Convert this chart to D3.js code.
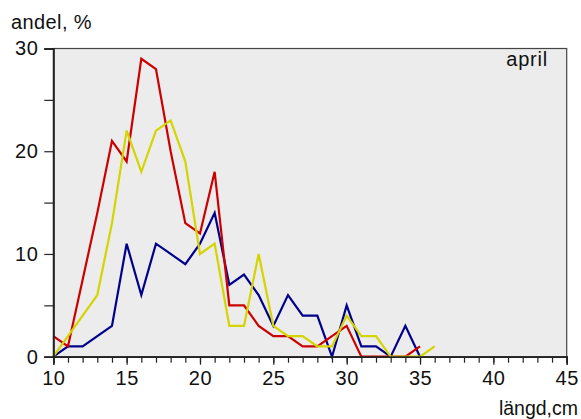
<!DOCTYPE html>
<html>
<head>
<meta charset="utf-8">
<script src="https://cdn.jsdelivr.net/npm/d3@7"></script>
<style>
  html, body { margin: 0; padding: 0; background: #fff; }
  svg { display: block; }
  text { font-family: "Liberation Sans", Arial, Helvetica, sans-serif; fill: #111; }
</style>
</head>
<body>
<svg id="chart" width="581" height="419"></svg>
<script>
// Length classes (cm) and share of catch (%) per length class
const lengthsCm = [10, 11, 12, 13, 14, 15, 16, 17, 18, 19, 20, 21, 22, 23, 24, 25, 26, 27, 28, 29, 30, 31, 32, 33, 34, 35, 36];
const redShare    = [2, 1, 7.5, 14, 21, 19, 29, 28, 20, 13, 12, 18, 5, 5, 3, 2, 2, 1, 1, 2, 3, 0, 0, 0, 0, 1];
const yellowShare = [0, 2, 4, 6, 13, 22, 18, 22, 23, 19, 10, 11, 3, 3, 10, 3, 2, 2, 1, 1, 4, 2, 2, 0, 0, 0, 1];
const blueShare   = [0, 1, 1, 2, 3, 11, 6, 11, 10, 9, 11, 14, 7, 8, 6, 3, 6, 4, 4, 0, 5, 1, 1, 0, 3, 0];

const xMajorTicks = [10, 15, 20, 25, 30, 35, 40, 45];
const yMajorTicks = [0, 10, 20, 30];
const yMinorTicks = [5, 15, 25];

const svg = d3.select("#chart");
const plot = { left: 53.3, right: 566.7, top: 48.5, bottom: 356.7 };

const x = d3.scaleLinear().domain([10, 45]).range([plot.left, plot.right]);
const y = d3.scaleLinear().domain([0, 30]).range([plot.bottom, plot.top]);

// plot background with thin frame
svg.append("rect")
  .attr("x", plot.left).attr("y", plot.top)
  .attr("width", plot.right - plot.left).attr("height", plot.bottom - plot.top)
  .attr("fill", "#ececec")
  .attr("stroke", "#444").attr("stroke-width", 1.2);

// series lines
const line = d3.line()
  .x((d, i) => x(lengthsCm[i]))
  .y(d => y(d));

const series = [
  { values: blueShare, color: "#00008c" },
  { values: redShare, color: "#cc0000" },
  { values: yellowShare, color: "#d4d400" }
];

svg.append("g").selectAll("path")
  .data(series)
  .join("path")
  .attr("d", s => line(s.values))
  .attr("fill", "none")
  .attr("stroke", s => s.color)
  .attr("stroke-width", 2.2)
  .attr("stroke-linejoin", "miter");

// x axis: major ticks with labels, minor ticks every cm
const xAxis = d3.axisBottom(x)
  .tickValues(xMajorTicks)
  .tickSize(8)
  .tickPadding(6)
  .tickFormat(d3.format("d"));
const xMinor = d3.axisBottom(x)
  .tickValues(d3.range(10, 46))
  .tickSize(6)
  .tickFormat("");

const gxMinor = svg.append("g").attr("transform", `translate(0,${plot.bottom})`).call(xMinor);
const gx = svg.append("g").attr("transform", `translate(0,${plot.bottom})`).call(xAxis);
[gx, gxMinor].forEach(g => {
  g.select(".domain").attr("stroke", "#222").attr("stroke-width", 1.6);
  g.selectAll(".tick line").attr("stroke", "#222").attr("stroke-width", 1.2);
});
gx.selectAll(".tick text")
  .style("font-family", "'Liberation Sans', Arial, sans-serif")
  .style("font-size", "20px")
  .style("letter-spacing", "0.5px")
  .attr("fill", "#111");

// y axis
const yAxis = d3.axisLeft(y)
  .tickValues(yMajorTicks)
  .tickSize(9)
  .tickPadding(6)
  .tickFormat(d3.format("d"));
const yMinor = d3.axisLeft(y)
  .tickValues(yMinorTicks)
  .tickSize(9)
  .tickFormat("");

const gyMinor = svg.append("g").attr("transform", `translate(${plot.left},0)`).call(yMinor);
const gy = svg.append("g").attr("transform", `translate(${plot.left},0)`).call(yAxis);
[gy, gyMinor].forEach(g => {
  g.select(".domain").attr("stroke", "#222").attr("stroke-width", 1.6);
  g.selectAll(".tick line").attr("stroke", "#222").attr("stroke-width", 1.2);
});
gy.selectAll(".tick text")
  .style("font-family", "'Liberation Sans', Arial, sans-serif")
  .style("font-size", "20px")
  .style("letter-spacing", "0.5px")
  .attr("fill", "#111");

// titles
svg.append("text")
  .attr("x", 11).attr("y", 28.5)
  .style("font-size", "20px")
  .style("letter-spacing", "0.4px")
  .text("andel, %");

svg.append("text")
  .attr("x", 548).attr("y", 66)
  .attr("text-anchor", "end")
  .style("font-size", "20px")
  .style("letter-spacing", "0.8px")
  .text("april");

svg.append("text")
  .attr("x", 578).attr("y", 415)
  .attr("text-anchor", "end")
  .style("font-size", "19.5px")
  .text("längd,cm");
</script>
</body>
</html>
